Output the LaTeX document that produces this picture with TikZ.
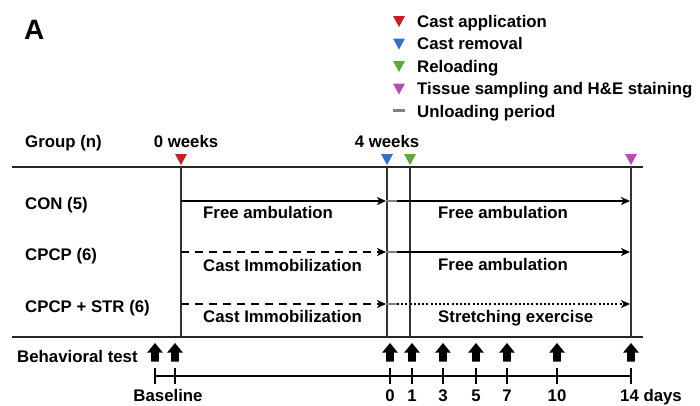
\documentclass[tikz,border=0pt]{standalone}
\usepackage{fontspec}
\setmainfont{Liberation Sans}
\usetikzlibrary{arrows.meta}
\definecolor{tred}{RGB}{200,30,35}
\definecolor{tblue}{RGB}{55,110,200}
\definecolor{tgreen}{RGB}{95,170,55}
\definecolor{tmag}{RGB}{185,75,180}
\definecolor{tgrey}{RGB}{130,130,130}
\begin{document}
\begin{tikzpicture}[x=1pt,y=-1pt,
  txt/.style={font=\fontsize{16.8}{18}\selectfont\bfseries, inner sep=0pt},
  frame/.style={line width=1.8pt, black!85},
  vline/.style={line width=1.5pt, black!80},
  flow/.style={line width=2.2pt, -{Stealth[length=9pt,width=8pt,inset=2.5pt]}},
  castline/.style={flow, dash pattern=on 8pt off 6pt},
  stretchline/.style={flow, dash pattern=on 2pt off 2.2pt},
  unload/.style={line width=2.4pt, tgrey},
  tickline/.style={line width=1.3pt},
  pics/tri/.style={code={\fill[#1] (-6,-5.5) -- (6,-5.5) -- (0,5.5) -- cycle;}},
  pics/bigarrow/.style={code={\fill (-3.8,9.5) -- (-3.8,0.5) -- (-7.8,0.5) -- (0,-9) -- (7.8,0.5) -- (3.8,0.5) -- (3.8,9.5) -- cycle;}},
]
\useasboundingbox (0,0) rectangle (700,405);

% Panel label
\node[txt, font=\fontsize{28}{30}\selectfont\bfseries, anchor=base west] (A) at (24,39) {A};

% Legend
\pic at (399,21.5) {tri=tred};
\node[txt, anchor=base west] (lg1) at (417,27) {Cast application};
\pic at (399,44) {tri=tblue};
\node[txt, anchor=base west] (lg2) at (417,49.5) {Cast removal};
\pic at (399,66.5) {tri=tgreen};
\node[txt, anchor=base west] (lg3) at (417,72) {Reloading};
\pic at (399,89) {tri=tmag};
\node[txt, anchor=base west] (lg4) at (417,94.5) {Tissue sampling and H\&E staining};
\coordinate (lgdA) at (393,110);
\coordinate (lgdB) at (405,110);
\draw[unload, line width=3pt] (lgdA) -- (lgdB);
\node[txt, anchor=base west] (lg5) at (417,117) {Unloading period};

% Header
\node[txt, anchor=base west] (grp) at (25,147.5) {Group (n)};
\node[txt, anchor=base] (w0) at (186,147.5) {0 weeks};
\node[txt, anchor=base] (w4) at (387,147) {4 weeks};

% Frame lines
\coordinate (topL) at (12,167);
\coordinate (topR) at (643,167);
\coordinate (botL) at (12,337);
\coordinate (botR) at (643,337);
\draw[frame] (topL) -- (topR);
\draw[frame] (botL) -- (botR);

% Vertical time markers
\coordinate (v0t) at (181,167); \coordinate (v0b) at (181,337);
\coordinate (v4t) at (387,167); \coordinate (v4b) at (387,337);
\coordinate (vrt) at (410,167); \coordinate (vrb) at (410,337);
\coordinate (vet) at (631,167); \coordinate (veb) at (631,337);
\draw[vline] (v0t) -- (v0b);
\draw[vline] (v4t) -- (v4b);
\draw[vline] (vrt) -- (vrb);
\draw[vline] (vet) -- (veb);

\pic at (181,159.5) {tri=tred};
\pic at (387,159.5) {tri=tblue};
\pic at (410,159.5) {tri=tgreen};
\pic at (631,159.5) {tri=tmag};

% Group labels
\node[txt, anchor=base west] (gcon) at (25,209) {CON (5)};
\node[txt, anchor=base west] (gcpcp) at (25,260) {CPCP (6)};
\node[txt, anchor=base west] (gstr) at (25,312) {CPCP + STR (6)};

% CON row
\coordinate (r1a) at (181,201); \coordinate (r1b) at (386,201);
\coordinate (r1c) at (397,201); \coordinate (r1d) at (630,201);
\draw[flow] (r1a) -- (r1b);
\draw[unload] (r1b) -- (r1c);
\draw[flow] (r1c) -- (r1d);
\node[txt, anchor=base west] (t1a) at (203,218) {Free ambulation};
\node[txt, anchor=base west] (t1b) at (438,218) {Free ambulation};

% CPCP row
\coordinate (r2a) at (181,252); \coordinate (r2b) at (386,252);
\coordinate (r2c) at (397,252); \coordinate (r2d) at (630,252);
\draw[castline] (r2a) -- (r2b);
\draw[unload] (r2b) -- (r2c);
\draw[flow] (r2c) -- (r2d);
\node[txt, anchor=base west] (t2a) at (203,271) {Cast Immobilization};
\node[txt, anchor=base west] (t2b) at (438,270) {Free ambulation};

% CPCP + STR row
\coordinate (r3a) at (181,304); \coordinate (r3b) at (386,304);
\coordinate (r3c) at (397,304); \coordinate (r3d) at (630,304);
\draw[castline] (r3a) -- (r3b);
\draw[unload] (r3b) -- (r3c);
\draw[stretchline] (r3c) -- (r3d);
\node[txt, anchor=base west] (t3a) at (203,322) {Cast Immobilization};
\node[txt, anchor=base west] (t3b) at (438,322) {Stretching exercise};

% Behavioral test
\node[txt, anchor=base west] (bt) at (17,362) {Behavioral test};
\foreach \x in {155,175,390,412,443,476,507,557,631} {
  \pic at (\x,352) {bigarrow};
}

% Timeline
\coordinate (tlL) at (155,376);
\coordinate (tlR) at (631,376);
\draw[tickline] (tlL) -- (tlR);
\foreach \x/\n in {155/a,175/b,390/c,412/d,443/e,476/f,507/g,557/h,631/i} {
  \coordinate (tk\n t) at (\x,368);
  \coordinate (tk\n b) at (\x,384);
  \draw[tickline] (tk\n t) -- (tk\n b);
}
\node[txt, anchor=base] (lbase) at (168,401) {Baseline};
\node[txt, anchor=base] (l0) at (390,401) {0};
\node[txt, anchor=base] (l1) at (412,401) {1};
\node[txt, anchor=base] (l3) at (443,401) {3};
\node[txt, anchor=base] (l5) at (476,401) {5};
\node[txt, anchor=base] (l7) at (507,401) {7};
\node[txt, anchor=base] (l10) at (557,401) {10};
\node[txt, anchor=base west] (l14) at (620,401) {14 days};
\end{tikzpicture}
\end{document}
